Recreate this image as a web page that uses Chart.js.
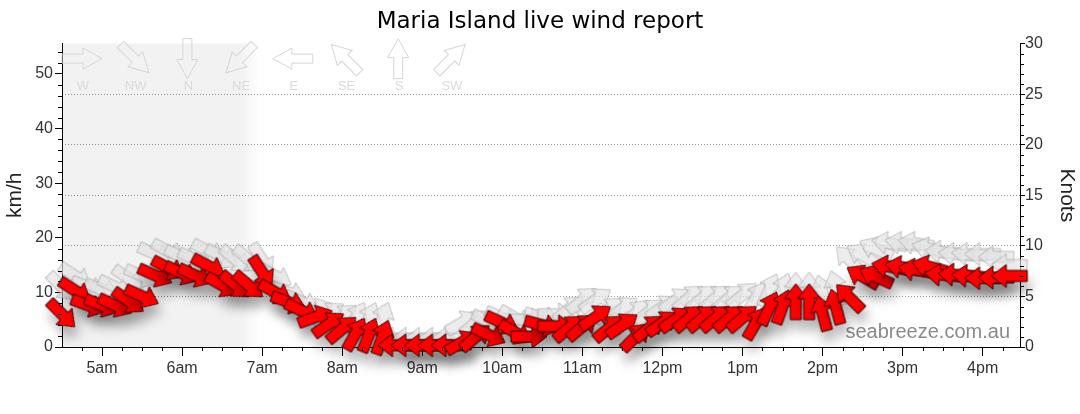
<!DOCTYPE html>
<html>
<head>
<meta charset="utf-8">
<title>Maria Island live wind report</title>
<script src="https://cdn.jsdelivr.net/npm/chart.js@4.4.1/dist/chart.umd.min.js"></script>
<style>
  html, body { margin: 0; padding: 0; background: #fff; }
  #wrap { width: 1080px; height: 414px; }
</style>
</head>
<body>
<div id="wrap"><canvas id="chart" width="1080" height="414"></canvas></div>
<script>
// readings every 10 minutes
const times = [
  "04:30", "04:40", "04:50", "05:00", "05:10", "05:20", "05:30", "05:40", "05:50",
  "06:00", "06:10", "06:20", "06:30", "06:40", "06:50",
  "07:00", "07:10", "07:20", "07:30", "07:40", "07:50",
  "08:00", "08:10", "08:20", "08:30", "08:40", "08:50",
  "09:00", "09:10", "09:20", "09:30", "09:40", "09:50",
  "10:00", "10:10", "10:20", "10:30", "10:40", "10:50",
  "11:00", "11:10", "11:20", "11:30", "11:40", "11:50",
  "12:00", "12:10", "12:20", "12:30", "12:40", "12:50",
  "13:00", "13:10", "13:20", "13:30", "13:40", "13:50",
  "14:00", "14:10", "14:20", "14:30", "14:40", "14:50",
  "15:00", "15:10", "15:20", "15:30", "15:40", "15:50",
  "16:00", "16:10", "16:20"
];

// average wind, km/h
const speedKmh = [
  6.0, 10.3, 7.6, 7.6, 7.6, 8.4, 9.3, 13.1, 14.4,
  13.5, 13.1, 14.8, 11.3, 11.3, 11.3,
  13.7, 10.0, 8.2, 6.6, 5.5, 4.2,
  3.3, 2.4, 2.2, 1.8, 0.3, 0.3,
  0.3, 0.3, 0.3, 0.9, 1.8, 2.2,
  4.4, 2.6, 1.9, 4.0, 3.8, 3.5,
  3.7, 5.5, 3.5, 4.0, 1.9, 3.5,
  4.4, 5.1, 5.3, 5.3, 5.3, 5.3,
  5.3, 4.4, 7.1, 7.4, 8.3, 8.3,
  6.2, 7.4, 9.1, 12.9, 12.9, 14.7,
  14.6, 14.1, 14.7, 13.2, 13.2, 13.0,
  12.6, 12.7, 13.0
];

// gusts, km/h
const gustKmh = [
  11, 13, 11, 10.5, 11, 12.5, 13, 17, 17.5,
  16.5, 16, 17.5, 16.5, 16, 16,
  16, 13, 10, 8.2, 6.8, 6,
  5.5, 5.3, 5.1, 5.1, 1.5, 1.5,
  1.5, 1.5, 1.5, 4.5, 4.5, 4.7,
  5.3, 5.3, 5, 5.5, 6, 7,
  8.6, 8.6, 6.8, 7, 6.2, 6.5,
  7.3, 8.6, 9, 9, 9, 9,
  9.5, 9, 10.4, 10.4, 10.4, 10.4,
  10, 10.8, 16, 16.8, 18, 19,
  19, 19, 18, 17.4, 17, 17,
  17, 16.5, 15
];

// direction the wind comes from, degrees
const dirFrom = [
  315, 303, 290, 292, 295, 305, 294, 294, 298,
  295, 295, 298, 300, 310, 310,
  327, 299, 290, 295, 250, 235,
  230, 210, 202, 200, 90, 90,
  90, 90, 90, 240, 230, 295,
  295, 300, 270, 285, 270, 230,
  230, 235, 230, 235, 225, 230,
  235, 235, 230, 230, 230, 230,
  230, 210, 205, 200, 180, 180,
  165, 165, 135, 120, 115, 100,
  100, 100, 105, 95, 95, 95,
  90, 90, 90
];

const hourLabels = ["5am", "6am", "7am", "8am", "9am", "10am", "11am", "12pm", "1pm", "2pm", "3pm", "4pm"];
const compassLabels = ["W", "NW", "N", "NE", "E", "SE", "S", "SW"];
const compassFrom = [270, 315, 0, 45, 90, 135, 180, 225];

const KMH_PER_KNOT = 1.852;
const MAX_KNOTS = 30;
const X_START = "04:30", X_END = "16:28";
const NIGHT_END = "06:44", DAY_START = "06:58";

function toMin(t) {
  const p = t.split(":");
  return +p[0] * 60 + +p[1];
}

// arrow pointing right, centred on (cx, cy)
function traceArrow(g, cx, cy, len, shaftW, headW, headL) {
  const x0 = cx - len / 2, x1 = cx + len / 2, xh = x1 - headL;
  g.beginPath();
  g.moveTo(x0, cy - shaftW / 2);
  g.lineTo(xh, cy - shaftW / 2);
  g.lineTo(xh, cy - headW / 2);
  g.lineTo(x1, cy);
  g.lineTo(xh, cy + headW / 2);
  g.lineTo(xh, cy + shaftW / 2);
  g.lineTo(x0, cy + shaftW / 2);
  g.closePath();
}

function makeArrow(fill, stroke) {
  const c = document.createElement("canvas");
  c.width = 40;
  c.height = 27;
  const g = c.getContext("2d");
  traceArrow(g, 20, 13.5, 36, 11, 23, 15);
  g.fillStyle = fill;
  g.fill();
  g.lineWidth = 1;
  g.strokeStyle = stroke;
  g.stroke();
  return c;
}

const redArrow = makeArrow("#ff0000", "#3a0000");
const gustArrow = makeArrow("rgba(226,226,226,0.65)", "rgba(165,165,165,0.7)");

// grey night band before sunrise
const nightShade = {
  id: "nightShade",
  beforeDraw(chart) {
    const { ctx, chartArea: a, scales: { x } } = chart;
    const x1 = x.getPixelForValue(toMin(NIGHT_END));
    const x2 = x.getPixelForValue(toMin(DAY_START));
    ctx.save();
    ctx.fillStyle = "#f2f2f2";
    ctx.fillRect(a.left, a.top, x1 - a.left, a.bottom - a.top);
    const grad = ctx.createLinearGradient(x1, 0, x2, 0);
    grad.addColorStop(0, "rgba(242,242,242,1)");
    grad.addColorStop(1, "rgba(242,242,242,0)");
    ctx.fillStyle = grad;
    ctx.fillRect(x1, a.top, x2 - x1, a.bottom - a.top);
    ctx.restore();
  }
};

// compass key + watermark
const decorations = {
  id: "decorations",
  beforeDatasetsDraw(chart) {
    const { ctx, chartArea: a } = chart;
    ctx.save();
    compassLabels.forEach((lab, i) => {
      const cx = a.left + 20 + i * 52.7;
      const cy = a.top + 15;
      ctx.save();
      ctx.translate(cx, cy);
      ctx.rotate((compassFrom[i] + 90) * Math.PI / 180);
      traceArrow(ctx, 0, 0, 40, 9, 21, 19);
      ctx.lineWidth = 1;
      ctx.strokeStyle = "#d6d6d6";
      ctx.stroke();
      ctx.restore();
      ctx.font = '13px "Liberation Sans"';
      ctx.fillStyle = "#dadada";
      ctx.textAlign = "center";
      ctx.textBaseline = "middle";
      ctx.fillText(lab, cx + 1, a.top + 43);
    });
    ctx.font = '20px "Liberation Sans"';
    ctx.fillStyle = "#8a8a8a";
    ctx.textAlign = "right";
    ctx.textBaseline = "alphabetic";
    ctx.fillText("seabreeze.com.au", a.right - 10, a.bottom - 9);
    ctx.restore();
  }
};

// soft shadow under the red arrows
const arrowShadow = {
  id: "arrowShadow",
  beforeDatasetDraw(chart, args) {
    if (args.index !== 0) return;
    const ctx = chart.ctx;
    ctx.save();
    ctx.shadowColor = "rgba(0,0,0,0.3)";
    ctx.shadowBlur = 12;
    ctx.shadowOffsetX = 3;
    ctx.shadowOffsetY = 10;
  },
  afterDatasetDraw(chart, args) {
    if (args.index !== 0) return;
    chart.ctx.restore();
  }
};

// short minor tick marks
const minorTicks = {
  id: "minorTicks",
  afterDraw(chart) {
    const { ctx, chartArea: a, scales } = chart;
    ctx.save();
    ctx.strokeStyle = "#000";
    ctx.lineWidth = 1;
    ctx.beginPath();
    for (let v = 2; v < scales.y.max; v += 2) {
      if (v % 10 === 0) continue;
      const y = Math.round(scales.y.getPixelForValue(v)) + 0.5;
      ctx.moveTo(a.left - 4, y);
      ctx.lineTo(a.left, y);
    }
    for (let k = 1; k < MAX_KNOTS; k++) {
      if (k % 5 === 0) continue;
      const y = Math.round(scales.y2.getPixelForValue(k)) + 0.5;
      ctx.moveTo(a.right, y);
      ctx.lineTo(a.right + 4, y);
    }
    for (let m = 285; m < scales.x.max; m += 15) {
      if (m % 60 === 0) continue;
      const x = Math.round(scales.x.getPixelForValue(m)) + 0.5;
      ctx.moveTo(x, a.bottom);
      ctx.lineTo(x, a.bottom + 4);
    }
    ctx.stroke();
    ctx.restore();
  }
};

const rotation = (c) => dirFrom[c.dataIndex] + 90;

new Chart(document.getElementById("chart"), {
  type: "scatter",
  data: {
    datasets: [
      {
        label: "Wind",
        data: times.map((t, i) => ({ x: toMin(t), y: speedKmh[i] })),
        pointStyle: redArrow,
        pointRotation: rotation,
        pointRadius: 18,
        clip: false,
        yAxisID: "y"
      },
      {
        label: "Gust",
        data: times.map((t, i) => ({ x: toMin(t), y: gustKmh[i] })),
        pointStyle: gustArrow,
        pointRotation: rotation,
        pointRadius: 18,
        clip: false,
        yAxisID: "y"
      }
    ]
  },
  options: {
    responsive: false,
    animation: false,
    devicePixelRatio: 1,
    events: [],
    layout: { padding: 0 },
    plugins: {
      legend: { display: false },
      tooltip: { enabled: false },
      title: {
        display: true,
        text: "Maria Island live wind report",
        color: "#000",
        font: { family: "DejaVu Sans", size: 23, weight: "normal" },
        padding: { top: 8, bottom: 8 }
      }
    },
    scales: {
      x: {
        type: "linear",
        position: "bottom",
        min: toMin(X_START),
        max: toMin(X_END),
        afterFit: (s) => { s.height = 67; },
        // one tick per whole hour
        afterBuildTicks: (s) => {
          s.ticks = hourLabels.map((lab, i) => ({ value: (i + 5) * 60 }));
        },
        ticks: {
          autoSkip: false,
          maxRotation: 0,
          padding: 3,
          color: "#333",
          font: { family: "Liberation Sans", size: 16 },
          callback: (v) => hourLabels[Math.round(v / 60) - 5]
        },
        grid: { drawOnChartArea: false, color: "#000", tickLength: 9 },
        border: { color: "#000" }
      },
      y: {
        position: "left",
        min: 0,
        max: MAX_KNOTS * KMH_PER_KNOT,
        afterFit: (s) => { s.width = 62; },
        ticks: {
          stepSize: 10,
          includeBounds: false,
          padding: 2,
          color: "#333",
          font: { family: "Liberation Sans", size: 16 }
        },
        grid: { drawOnChartArea: false, color: "#000", tickLength: 7 },
        border: { color: "#000" },
        title: {
          display: true,
          text: "km/h",
          color: "#222",
          font: { family: "Liberation Sans", size: 21 },
          padding: { top: 3, bottom: 0 }
        }
      },
      y2: {
        position: "right",
        min: 0,
        max: MAX_KNOTS,
        afterFit: (s) => { s.width = 60; },
        ticks: {
          stepSize: 5,
          padding: 0,
          color: "#333",
          font: { family: "Liberation Sans", size: 16 }
        },
        grid: {
          drawOnChartArea: true,
          color: (c) => (c.tick && c.tick.value > 0 && c.tick.value < MAX_KNOTS) ? "rgba(0,0,0,0.4)" : "rgba(0,0,0,0)",
          tickColor: "#000",
          tickLength: 5
        },
        border: { color: "#000", dash: [1, 2] },
        title: {
          display: true,
          text: "Knots",
          color: "#222",
          font: { family: "Liberation Sans", size: 21 },
          padding: { top: 1, bottom: 0 }
        }
      }
    }
  },
  plugins: [nightShade, decorations, arrowShadow, minorTicks]
});
</script>
</body>
</html>
